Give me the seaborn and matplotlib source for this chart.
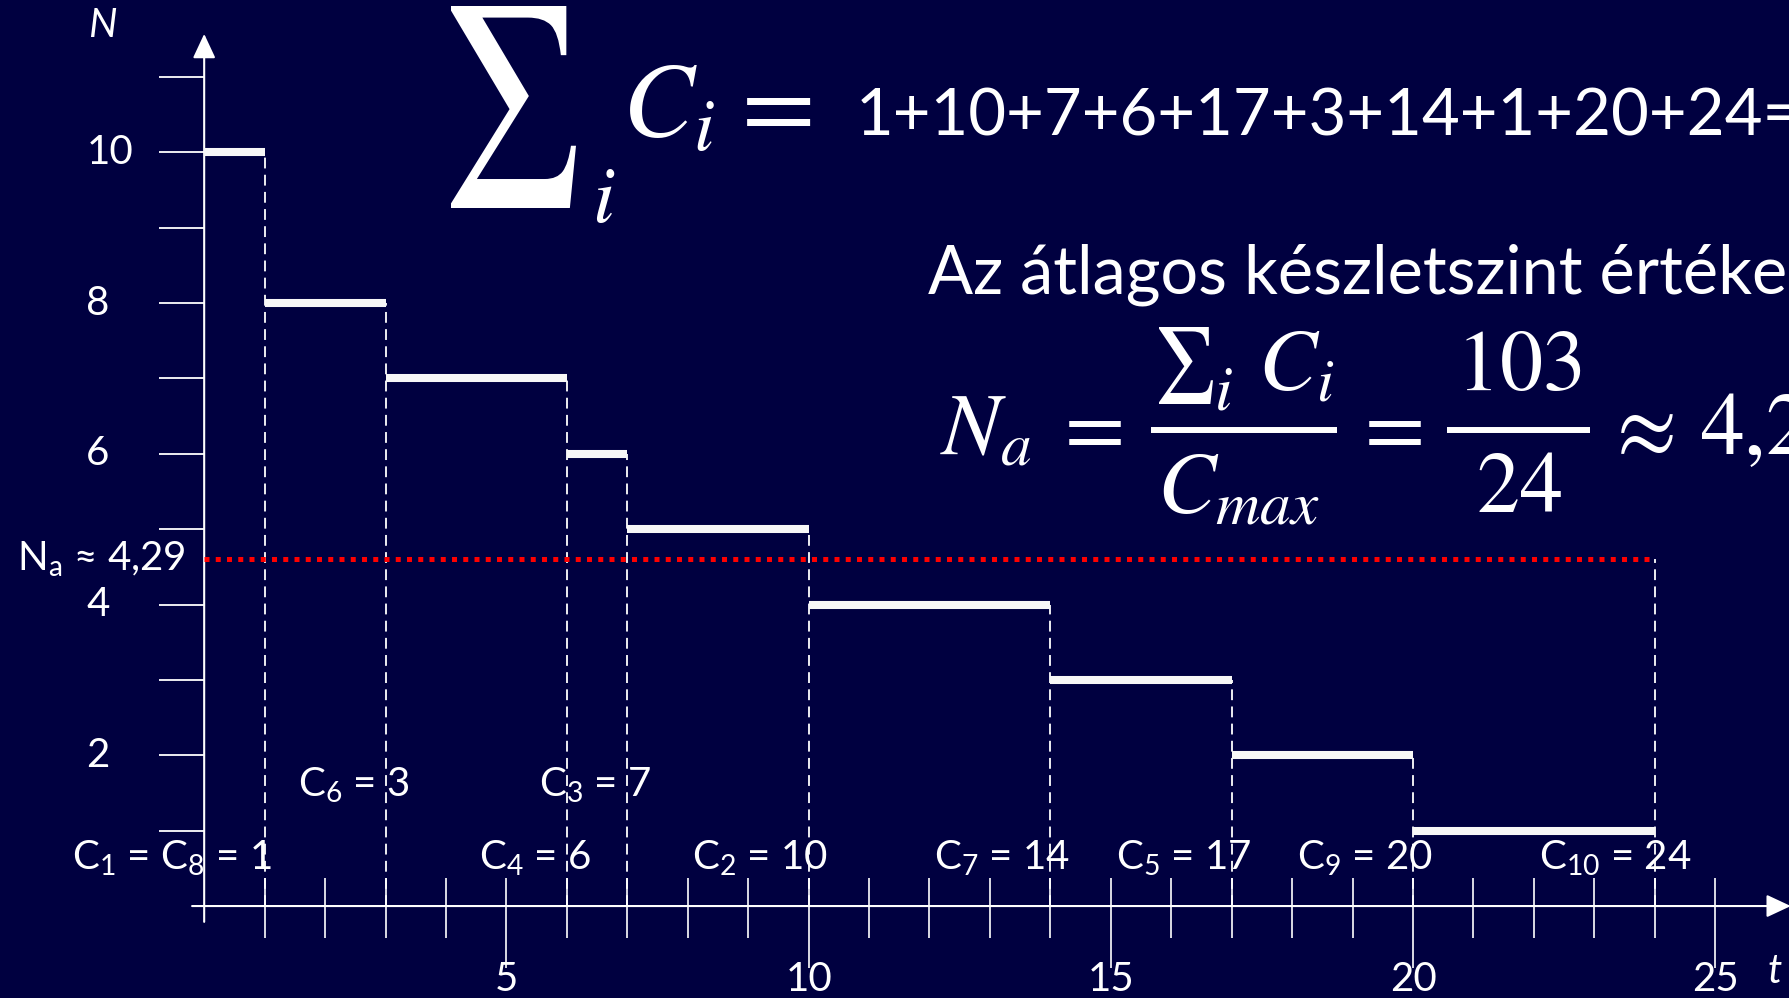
import pandas as pd
import matplotlib
matplotlib.use("Agg")
import matplotlib.pyplot as plt
import matplotlib.transforms as mtransforms
from matplotlib.textpath import TextPath
from matplotlib.patches import PathPatch
from matplotlib.font_manager import FontProperties
import seaborn as sns

# ================================
# Data
# ================================
change_times = [0, 1, 3, 6, 7, 10, 14, 17, 20, 24]   # stock changes at these t
stock_levels = [10, 8, 7, 6, 5, 4, 3, 2, 1]           # N between two changes
completion_labels = ["C$_1$ = C$_8$ = 1", "C$_6$ = 3", "C$_3$ = 7", "C$_4$ = 6",
                     "C$_2$ = 10", "C$_7$ = 14", "C$_5$ = 17", "C$_9$ = 20",
                     "C$_{10}$ = 24"]
completion_label_t = [-0.54, 2.48, 6.47, 5.47, 9.2, 13.2, 16.2, 19.2, 23.34]
completion_label_row = [0, 1, 1, 0, 0, 0, 0, 0, 0]
sum_terms = [1, 10, 7, 6, 17, 3, 14, 1, 20, 24]
c_max = 24
sum_c = 103
na_label = "4,29"
na_drawn = 4.6          # height of the red dotted line as drawn on the slide
x_major = [5, 10, 15, 20, 25]
x_minor = [i for i in range(1, 25) if i not in x_major]
y_ticks = list(range(1, 12))
y_labels = [2, 4, 6, 8, 10]

BG = "#000040"
W, H = 1789, 998

sns.set_style("dark")
plt.rcParams["font.family"] = ["Lato", "DejaVu Sans"]
plt.rcParams["mathtext.fontset"] = "custom"
plt.rcParams["mathtext.rm"] = "Lato"
plt.rcParams["mathtext.it"] = "Lato:italic"

fig = plt.figure(figsize=(W / 100, H / 100), dpi=100, facecolor=BG)
ax = fig.add_axes([0, 0, 1, 1])
ax.set_facecolor(BG)
ax.set_xlim(-3.378, 26.22)
ax.set_ylim(-1.22, 12.02)
ax.axis("off")


def px(x, y):
    return x / W, 1 - y / H


def glyph_box(ch, left, top, right, bottom, family="STIXGeneral"):
    # big math sigma, stretched to the box it fills on the slide
    tp = TextPath((0, 0), ch, size=100, prop=FontProperties(family=family))
    ext = tp.get_extents()
    tr = (mtransforms.Affine2D().translate(-ext.x0, -ext.y0)
          .scale((right - left) / ext.width, (bottom - top) / ext.height)
          .translate(left, H - bottom))
    fig.add_artist(PathPatch(tr.transform_path(tp), facecolor="white", edgecolor="none",
                             transform=mtransforms.IdentityTransform()))


def math(x, y, s, size, ha="left"):
    fig.text(*px(x, y), s, color="white", fontsize=size, math_fontfamily="stix",
             ha=ha, va="baseline")


def frac_bar(x0, x1, y):
    fig.add_artist(plt.Line2D([x0 / W, x1 / W], [1 - y / H] * 2, transform=fig.transFigure,
                              color="white", linewidth=4.3, solid_capstyle="butt"))


# ================================
# Stock level steps
# ================================
rows = []
for i, lvl in enumerate(stock_levels):
    rows.append({"t": change_times[i], "N": lvl, "seg": i})
    rows.append({"t": change_times[i + 1], "N": lvl, "seg": i})
steps = pd.DataFrame(rows)
sns.lineplot(data=steps, x="t", y="N", units="seg", estimator=None, color="#f7f7f7",
             linewidth=5.8, legend=False, ax=ax, solid_capstyle="butt", zorder=4)

# dashed drop lines
tops = stock_levels[:-1] + [na_drawn]
ax.vlines(change_times[1:], 0, tops, colors="white", linestyles=(0, (6, 3.5)),
          linewidth=1.3, zorder=3)

# average line
avg = pd.DataFrame({"t": [0, change_times[-1]], "N": [na_drawn, na_drawn]})
sns.lineplot(data=avg, x="t", y="N", color="#ff0000", linewidth=3.6, ax=ax,
             dashes=False, zorder=5)
ax.lines[-1].set_dashes((1, 1.25))
ax.lines[-1].set_dash_capstyle("butt")

# ================================
# Axes drawn by hand
# ================================
arrow = dict(arrowstyle="-|>,head_length=0.75,head_width=0.35", color="white",
             lw=1.5, mutation_scale=20, shrinkA=0, shrinkB=0)
ax.annotate("", xy=(0, 11.57), xytext=(0, -0.21), arrowprops=arrow,
            annotation_clip=False)
ax.annotate("", xy=(26.25, 0), xytext=(-0.2, 0), arrowprops=arrow,
            annotation_clip=False)

ax.hlines(y_ticks, -0.75, 0, colors="white", linewidth=1.3)
ax.vlines(x_minor, -0.42, 0.37, colors="white", linewidth=1.2)
ax.vlines(x_major, -0.82, 0.37, colors="white", linewidth=1.2)

for v in x_major:
    ax.text(v, -0.97, str(v), color="white", fontsize=29, ha="center", va="center")
for v in y_labels:
    ax.text(-1.95, v, str(v), color="white", fontsize=29, ha="left", va="center")

ax.text(-1.68, 11.68, "N", color="white", fontsize=29, style="italic",
        ha="center", va="center")
ax.text(25.99, -0.875, "t", color="white", fontsize=29, style="italic",
        ha="center", va="center")
ax.text(-0.3, na_drawn, "N$_\\mathrm{a}$ ≈ " + na_label, color="white", fontsize=29,
        ha="right", va="center")

row_y = [0.48, 1.45]
for lab, t, r in zip(completion_labels, completion_label_t, completion_label_row):
    ax.text(t, row_y[r], lab, color="white", fontsize=29, ha="center", va="baseline",
            zorder=6)

# ================================
# Formulas
# ================================
# sum of C_i
glyph_box("Σ", 451, 6, 576, 208)
fig.text(*px(592, 222), "i", color="white", fontsize=58, family="STIXGeneral",
         style="italic", ha="left", va="baseline")
math(622, 137, "$C_i$", 77)
math(726, 137, "$=$", 77)
fig.text(*px(856, 135), "+".join(str(v) for v in sum_terms) + "=" + str(sum_c),
         color="white", fontsize=47, ha="left", va="baseline")

fig.text(*px(928, 293), "Az átlagos készletszint értéke:", color="white", fontsize=48,
         ha="left", va="baseline")

# N_a = sum C_i / C_max = 103 / 24 ~ 4,29
math(940, 454, "$N_a$", 63)
math(1052, 454, "$=$", 63)
glyph_box("Σ", 1159, 327, 1213, 404)
fig.text(*px(1215, 409), "i", color="white", fontsize=46, family="STIXGeneral",
         style="italic", ha="left", va="baseline")
math(1258, 390, "$C_i$", 63)
frac_bar(1151, 1337, 430)
math(1238, 513, "$C_{max}$", 63, ha="center")
math(1352, 454, "$=$", 63)
frac_bar(1447, 1590, 430)
math(1519, 390, "$%d$" % sum_c, 62, ha="center")
math(1519, 512, "$%d$" % c_max, 62, ha="center")
math(1604, 454, r"$\approx$", 63)
math(1700, 454, "$%s$" % na_label.replace(",", "{,}"), 63)

fig.savefig("out.png", dpi=100, facecolor=BG)
